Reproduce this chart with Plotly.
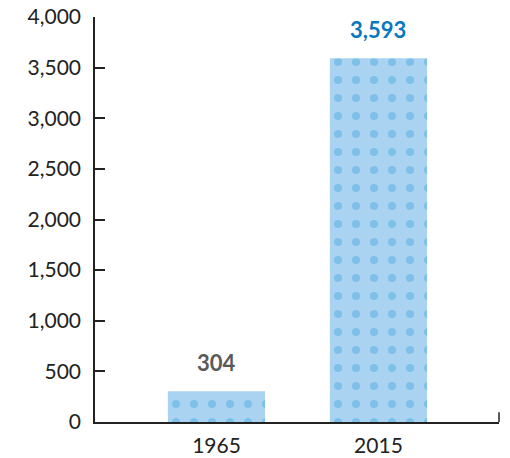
import plotly.graph_objects as go

years = ["1965", "2015"]
values = [304, 3593]
value_labels = ["304", "3,593"]
label_colors = ["#5a5a5a", "#0a78bd"]
tick_vals = [0, 500, 1000, 1500, 2000, 2500, 3000, 3500, 4000]
tick_text = ["0", "500", "1,000", "1,500", "2,000", "2,500", "3,000", "3,500", "4,000"]

fig = go.Figure()
fig.add_trace(go.Bar(
    x=years, y=values, width=0.6,
    marker=dict(
        color="#a9d3f1",
        line=dict(width=0),
        pattern=dict(shape=".", fgcolor="#55ade0", bgcolor="#a9d3f1", size=18, solidity=0.16),
    ),
    hoverinfo="skip",
))

for i, (v, t, c) in enumerate(zip(values, value_labels, label_colors)):
    fig.add_annotation(x=i, y=v, xref="x", yref="y", text=t, showarrow=False,
                       yanchor="bottom", yshift=13,
                       font=dict(family="Lato", size=22, color=c, weight="bold"))

fig.add_shape(type="line", xref="paper", yref="paper", x0=1, x1=1, y0=0, y1=0.024,
              line=dict(color="#222222", width=1.5))

fig.update_layout(
    width=510, height=458,
    margin=dict(l=95, r=11, t=17, b=36, autoexpand=False),
    paper_bgcolor="white", plot_bgcolor="white",
    showlegend=False,
    font=dict(family="Lato", size=21, color="#222222"),
    xaxis=dict(
        type="category", range=[-0.75, 1.744],
        showline=True, linecolor="#222222", linewidth=1.5,
        ticks="", showgrid=False, ticklabelstandoff=4,
        tickfont=dict(size=21, color="#222222"),
    ),
    yaxis=dict(
        range=[0, 4000.5], tickvals=tick_vals, ticktext=tick_text,
        showline=True, linecolor="#222222", linewidth=1.5,
        ticks="inside", ticklen=10, tickwidth=1.5, tickcolor="#222222",
        showgrid=False, zeroline=False, ticklabelstandoff=8,
        ticklabeloverflow="allow",
        tickfont=dict(size=21, color="#222222"),
    ),
)

fig.write_html("out.html", config={"displayModeBar": False},
               post_script="document.body.style.margin='0';document.body.style.overflow='hidden';")
